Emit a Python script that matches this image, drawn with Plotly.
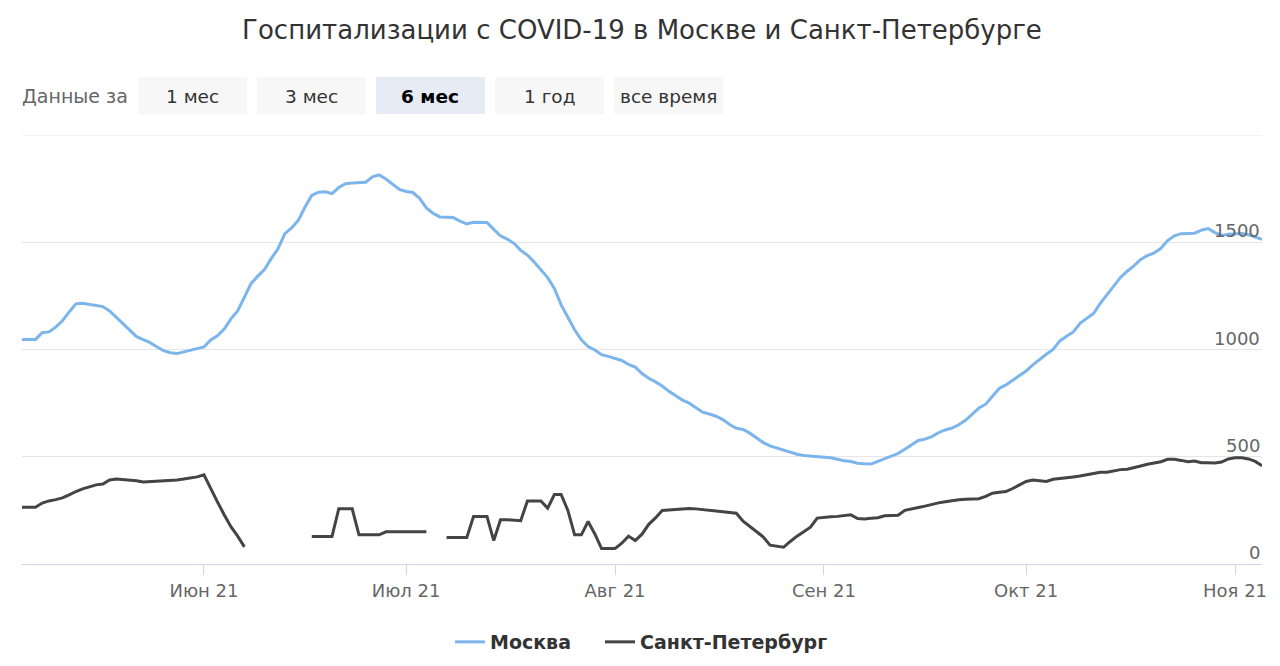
import pandas as pd
import plotly.graph_objects as go

START_DATE = "2021-05-05"

moscow = [
    1047, 1047, 1047, 1078, 1082, 1104, 1134, 1175, 1213, 1216,
    1210, 1206, 1200, 1180, 1150, 1120, 1094, 1060, 1046, 1032,
    1013, 995, 985, 981, 989, 997, 1002, 1012, 1045, 1064,
    1095, 1143, 1180, 1243, 1308, 1342, 1374, 1425, 1470, 1540,
    1567, 1602, 1664, 1718, 1733, 1735, 1727, 1755, 1773, 1776,
    1777, 1780, 1805, 1814, 1795, 1772, 1746, 1737, 1732, 1705,
    1660, 1635, 1618, 1617, 1615, 1598, 1585, 1593, 1594, 1592,
    1560, 1530, 1515, 1495, 1462, 1440, 1408, 1373, 1335, 1285,
    1208, 1150, 1092, 1045, 1014, 998, 976, 968, 957, 949,
    930, 918, 888, 866, 849, 830, 805, 784, 764, 750,
    730, 708, 699, 689, 673, 650, 633, 627, 610, 589,
    566, 551, 541, 533, 524, 512, 506, 503, 500, 497,
    495, 488, 481, 478, 470, 467, 466, 478, 490, 503,
    515, 535, 556, 576, 582, 594, 612, 625, 634, 649,
    670, 697, 727, 745, 783, 818, 835, 857, 880, 900,
    928, 955, 978, 1000, 1040, 1062, 1082, 1122, 1146, 1168,
    1215, 1256, 1296, 1336, 1365, 1390, 1420, 1438, 1450, 1472,
    1508, 1530, 1540, 1542, 1542, 1556, 1564, 1545, 1532, 1537,
    1540, 1541, 1535, 1526, 1514,
]

spb = [
    265, 265, 265, 284, 294, 300, 308, 322, 338, 350,
    360, 369, 373, 392, 396, 394, 393, 388, 382, 384,
    385, 385, 389, 392, 396, 400, 406, 416, 350, 290,
    230, 174, 130, 80, None, None, None, None, None, None,
    None, None, None, 128, 128, 128, 128, 257, 257, 257,
    136, 136, 136, 136, 150, 150, 150, 150, 150, 150,
    150, None, None, 123, 123, 123, 123, 221, 221, 221,
    109, 206, 206, 204, 202, 294, 294, 294, 260, 324,
    324, 250, 136, 136, 198, 140, 72, 72, 72, 97,
    130, 109, 139, 185, 215, 250, 252, 256, 259, 259,
    257, 254, 249, 247, 246, 240, 237, 200, 175, 150,
    126, 88, 82, 78, 105, 130, 150, 172, 214, 218,
    220, 222, 224, 229, 212, 210, 213, 216, 225, 227,
    227, 250, 255, 263, 270, 278, 285, 290, 296, 299,
    302, 303, 304, 315, 330, 334, 338, 352, 370, 385,
    391, 389, 385, 395, 398, 400, 406, 410, 415, 423,
    428, 428, 434, 440, 442, 448, 457, 465, 472, 477,
    488, 488, 483, 477, 480, 472, 472, 471, 475, 490,
    495, 495, 490, 478, 458,
]

series_names = ["Москва", "Санкт-Петербург"]
month_ticks = ["2021-06-01", "2021-07-01", "2021-08-01", "2021-09-01", "2021-10-01", "2021-11-01"]
month_labels = ["Июн 21", "Июл 21", "Авг 21", "Сен 21", "Окт 21", "Ноя 21"]
y_ticks = [0, 500, 1000, 1500, 2000]
y_labels = ["0", "500", "1000", "1500", ""]
range_label = "Данные за"
buttons = ["1 мес", "3 мес", "6 мес", "1 год", "все время"]
selected_button = "6 мес"
title = "Госпитализации с COVID-19 в Москве и Санкт-Петербурге"

dates = pd.date_range(START_DATE, periods=len(moscow), freq="D")

FONT = "DejaVu Sans"
W, H = 1280, 666
L, R, T, B = 22, 18, 135, 102
PW = W - L - R
PH = H - T - B


def px_x(px):
    return (px - L) / PW


def px_y(py):
    return (H - B - py) / PH


fig = go.Figure()
fig.add_trace(go.Scatter(x=dates, y=moscow, mode="lines", name=series_names[0],
                         line=dict(color="#7cb5ec", width=3), legend="legend"))
fig.add_trace(go.Scatter(x=dates, y=spb, mode="lines", name=series_names[1],
                         line=dict(color="#434348", width=3), connectgaps=False, legend="legend2"))

shapes = []
annotations = []

# top grid line (plotly drops gridlines at the exact range end)
shapes.append(dict(type="line", xref="paper", yref="y", x0=0, x1=1, y0=y_ticks[-1], y1=y_ticks[-1],
                   line=dict(color="#e6e6e6", width=1), layer="below"))

# y-axis labels drawn inside the plot, right aligned, above their grid line
for v, lab in zip(y_ticks, y_labels):
    if lab:
        annotations.append(dict(text=lab, xref="paper", yref="y", x=1, y=v,
                                xanchor="right", yanchor="bottom", yshift=-1, showarrow=False,
                                font=dict(family=FONT, size=18, color="#666666")))

annotations.append(dict(text=range_label, xref="paper", yref="paper",
                        x=px_x(130), y=px_y(96), xanchor="right", yanchor="middle",
                        showarrow=False, font=dict(family=FONT, size=19, color="#666666")))
bx0 = 138
for i, b in enumerate(buttons):
    x0 = bx0 + i * 119
    x1 = x0 + 109
    sel = (b == selected_button)
    shapes.append(dict(type="rect", xref="paper", yref="paper",
                       x0=px_x(x0), x1=px_x(x1), y0=px_y(114), y1=px_y(77),
                       fillcolor="#e6ebf5" if sel else "#f7f7f7", line=dict(width=0), layer="below"))
    annotations.append(dict(text=("<b>%s</b>" % b) if sel else b, xref="paper", yref="paper",
                            x=px_x((x0 + x1) / 2), y=px_y(96), xanchor="center", yanchor="middle",
                            showarrow=False,
                            font=dict(family=FONT, size=18.5, color="#000000" if sel else "#333333")))

legend_font = dict(family=FONT, size=19, color="#333333", weight="bold")

fig.update_layout(
    width=W, height=H,
    margin=dict(l=L, r=R, t=T, b=B, autoexpand=False),
    paper_bgcolor="white", plot_bgcolor="white",
    title=dict(text=title, x=0.5, xref="paper", xanchor="center", y=1 - 30 / H, yanchor="middle",
               font=dict(family=FONT, size=26, color="#333333")),
    font=dict(family=FONT, color="#666666"),
    showlegend=True,
    legend=dict(orientation="h", x=px_x(450), xanchor="left", y=px_y(642), yanchor="middle",
                font=legend_font),
    legend2=dict(orientation="h", x=px_x(600), xanchor="left", y=px_y(642), yanchor="middle",
                 font=legend_font),
    shapes=shapes,
    annotations=annotations,
    xaxis=dict(range=[dates[0], dates[-1]], tickvals=month_ticks, ticktext=month_labels,
               showgrid=False, showline=True, linecolor="#ccd6eb", linewidth=1,
               ticks="outside", ticklen=10, tickcolor="#ccd6eb", ticklabelstandoff=0,
               ticklabeloverflow="allow", automargin=False,
               tickfont=dict(family=FONT, size=18, color="#666666"), zeroline=False),
    yaxis=dict(range=[0, 2000], tickvals=y_ticks, showticklabels=False, side="right",
               showgrid=True, gridcolor="#e6e6e6", zeroline=False,
               showline=False, ticks="", automargin=False),
)

fig.write_html("out.html", post_script="document.body.style.margin='0px';",
               config={"displayModeBar": False})
